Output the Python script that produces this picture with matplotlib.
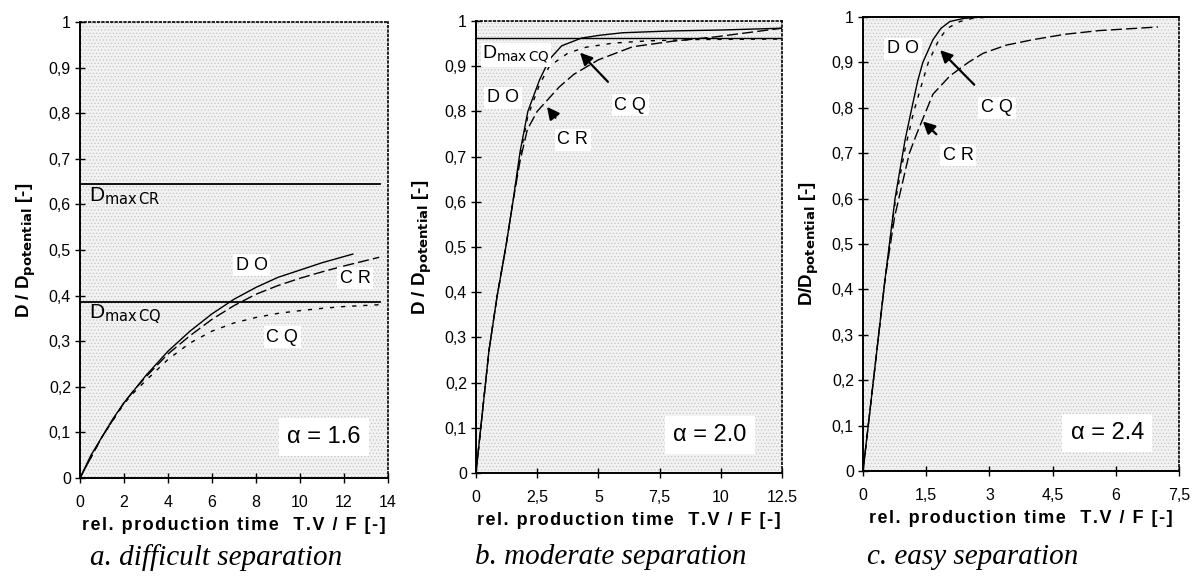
import numpy as np
import matplotlib.pyplot as plt

plt.rcParams['font.family'] = ['Liberation Sans', 'DejaVu Sans']
plt.rcParams['hatch.color'] = '#c4c4c4'
plt.rcParams['hatch.linewidth'] = 0.5

# ---- panel a: difficult separation, alpha = 1.6 ----
a_do_x = [0, 0.5, 1, 1.5, 2, 2.5, 3, 4, 5, 6, 7, 8, 9, 10, 11, 12.4]
a_do_y = [0, 0.05, 0.09, 0.13, 0.165, 0.195, 0.225, 0.278, 0.322, 0.36, 0.392, 0.418, 0.44, 0.456, 0.472, 0.491]
a_cr_x = [0, 1, 2, 2.5, 3, 4, 5, 6, 7, 8, 9, 10, 11, 12, 13.6]
a_cr_y = [0, 0.09, 0.165, 0.195, 0.222, 0.272, 0.312, 0.348, 0.378, 0.403, 0.422, 0.438, 0.452, 0.465, 0.484]
a_cq_x = [0, 1, 2, 2.5, 3, 4, 5, 6, 7, 8, 9, 10, 11, 12, 13.6]
a_cq_y = [0, 0.09, 0.163, 0.19, 0.214, 0.26, 0.296, 0.322, 0.34, 0.352, 0.361, 0.367, 0.372, 0.376, 0.38]
a_dmax_cr = 0.645
a_dmax_cq = 0.385

# ---- panel b: moderate separation, alpha = 2.0 ----
b_do_x = [0, 0.53, 0.86, 1.22, 1.51, 1.8, 2.12, 2.6, 3.0, 3.5, 4.3, 5, 6, 8, 10, 12.5]
b_do_y = [0, 0.27, 0.39, 0.5, 0.6, 0.71, 0.8, 0.87, 0.915, 0.945, 0.962, 0.968, 0.974, 0.978, 0.98, 0.984]
b_cr_x = [0, 0.53, 0.86, 1.22, 1.51, 1.8, 2.1, 2.5, 3.0, 3.4, 4.0, 5.0, 6.4, 8, 9.8, 12.5]
b_cr_y = [0, 0.27, 0.39, 0.5, 0.6, 0.69, 0.76, 0.8, 0.83, 0.854, 0.882, 0.914, 0.943, 0.955, 0.965, 0.984]
b_cq_x = [0, 0.53, 0.86, 1.22, 1.51, 1.8, 2.12, 2.6, 3.0, 3.76, 4.5, 5.6, 7, 9, 12.5]
b_cq_y = [0, 0.27, 0.39, 0.5, 0.6, 0.7, 0.79, 0.86, 0.9, 0.929, 0.942, 0.951, 0.956, 0.959, 0.96]
b_dmax_cq = 0.962

# ---- panel c: easy separation, alpha = 2.4 ----
c_do_x = [0, 0.52, 0.76, 1.0, 1.16, 1.3, 1.42, 1.66, 1.85, 2.06, 2.4, 2.85, 4, 7.5]
c_do_y = [0, 0.42, 0.6, 0.73, 0.8, 0.86, 0.9, 0.95, 0.975, 0.99, 0.997, 1.0, 1.0, 1.0]
c_cr_x = [0, 0.52, 0.75, 0.95, 1.1, 1.28, 1.66, 2.06, 2.5, 2.85, 3.4, 4.03, 4.8, 5.6, 7.0]
c_cr_y = [0, 0.42, 0.56, 0.64, 0.7, 0.744, 0.83, 0.87, 0.9, 0.92, 0.938, 0.95, 0.962, 0.97, 0.978]
c_cq_x = [0, 0.52, 0.76, 1.0, 1.2, 1.42, 1.55, 1.8, 2.0, 2.3, 2.6, 3.0, 7.5]
c_cq_y = [0, 0.42, 0.59, 0.71, 0.79, 0.86, 0.9, 0.95, 0.975, 0.99, 0.997, 1.0, 1.0]

y_ticks = np.arange(0, 1.01, 0.1)
y_labels = ['0'] + ['0,%d' % i for i in range(1, 10)] + ['1']
a_xticks = [0, 2, 4, 6, 8, 10, 12, 14]
a_xlabels = ['0', '2', '4', '6', '8', '10', '12', '14']
b_xticks = [0, 2.5, 5, 7.5, 10, 12.5]
b_xlabels = ['0', '2,5', '5', '7,5', '10', '12.5']
c_xticks = [0, 1.5, 3, 4.5, 6, 7.5]
c_xlabels = ['0', '1,5', '3', '4,5', '6', '7,5']

captions = ['a. difficult separation', 'b. moderate separation', 'c. easy separation']

DO_STYLE = dict(color='black', lw=1.0, ls='-')
CR_STYLE = dict(color='black', lw=1.0, ls=(0, (8, 3)))
CQ_STYLE = dict(color='black', lw=1.0, ls=(0, (3, 5)))
BOX = dict(facecolor='white', edgecolor='none', pad=2)
LAB = dict(fontsize=13, ha='center', va='center', bbox=BOX)
ALPHA_BOX = dict(facecolor='white', edgecolor='none', pad=6)
ARROW = dict(arrowstyle='-|>', color='black', lw=1.6, shrinkB=0, mutation_scale=18)


def spaced(s):
    # wide letter spacing like the original axis titles
    return '\u200a'.join(s)


XLABEL = spaced('rel. production time  T.V / F [-]')

fig = plt.figure(figsize=(11.92, 5.78), dpi=100)


def setup_axes(rect, xmax, xticks, xlabels, ylabel, top_dotted=True):
    ax = fig.add_axes(rect)
    ax.set_facecolor('white')
    ax.add_patch(plt.Rectangle((0, 0), 1, 1, transform=ax.transAxes,
                               facecolor='#f2f2f2', hatch='.....', edgecolor='#c4c4c4',
                               lw=0, zorder=0))
    ax.set_xlim(0, xmax)
    ax.set_ylim(0, 1)
    ax.set_yticks(y_ticks)
    ax.set_yticklabels(y_labels)
    ax.set_xticks(xticks)
    ax.set_xticklabels(xlabels)
    ax.tick_params(direction='inout', length=7, width=1, labelsize=11.5, pad=3)
    ax.tick_params(axis='x', pad=9)
    ax.spines['left'].set_linewidth(1.4)
    ax.spines['bottom'].set_linewidth(1.4)
    ax.spines['right'].set_linestyle(':')
    ax.spines['right'].set_linewidth(1.2)
    if top_dotted:
        ax.spines['top'].set_linestyle(':')
        ax.spines['top'].set_linewidth(1.2)
    else:
        ax.spines['top'].set_linewidth(1.4)
    ax.set_xlabel(XLABEL, fontsize=13, fontweight='bold', labelpad=5)
    ax.set_ylabel(ylabel, fontsize=13.5, fontweight='bold', labelpad=8)
    return ax


# panel a
ax = setup_axes([0.0671, 0.173, 0.2584, 0.789], 14, a_xticks, a_xlabels,
                r'D / D$_{\mathbf{potential}}$ [-]')
ax.axhline(a_dmax_cr, color='black', lw=1.3, xmin=0, xmax=0.975)
ax.axhline(a_dmax_cq, color='black', lw=1.3, xmin=0, xmax=0.975)
ax.plot(a_do_x, a_do_y, **DO_STYLE)
ax.plot(a_cr_x, a_cr_y, **CR_STYLE)
ax.plot(a_cq_x, a_cq_y, **CQ_STYLE)
ax.text(0.4, 0.618, r'D$_{\mathrm{max\,CR}}$', fontsize=15, va='center')
ax.text(0.4, 0.36, r'D$_{\mathrm{max\,CQ}}$', fontsize=15, va='center')
ax.text(7.8, 0.467, 'D O', **LAB)
ax.text(12.5, 0.438, 'C R', **LAB)
ax.text(9.2, 0.309, 'C Q', **LAB)
ax.text(11.1, 0.09, '\u03b1 = 1.6', fontsize=17, ha='center', va='center', bbox=ALPHA_BOX)

# panel b
ax = setup_axes([0.3993, 0.1817, 0.2567, 0.782], 12.5, b_xticks, b_xlabels,
                r'D / D$_{\mathbf{potential}}$ [-]')
ax.axhline(b_dmax_cq, color='black', lw=1.0)
ax.plot(b_do_x, b_do_y, **DO_STYLE)
ax.plot(b_cr_x, b_cr_y, **CR_STYLE)
ax.plot(b_cq_x, b_cq_y, **CQ_STYLE)
ax.text(0.25, 0.925, r'D$_{\mathrm{max\,CQ}}$', fontsize=14, va='center',
        bbox=dict(facecolor='white', edgecolor='none', pad=1))
ax.text(1.1, 0.83, 'D O', **LAB)
ax.annotate('C Q', xy=(4.25, 0.93), xytext=(6.3, 0.814), **LAB,
            arrowprops=dict(ARROW, shrinkA=12))
ax.annotate('C R', xy=(2.9, 0.81), xytext=(3.96, 0.737), **LAB,
            arrowprops=dict(ARROW, shrinkA=10))
ax.text(9.55, 0.084, '\u03b1 = 2.0', fontsize=17, ha='center', va='center', bbox=ALPHA_BOX)

# panel c
ax = setup_axes([0.724, 0.1851, 0.2651, 0.7855], 7.5, c_xticks, c_xlabels,
                r'D/D$_{\mathbf{potential}}$ [-]', top_dotted=False)
ax.plot(c_do_x, c_do_y, **DO_STYLE)
ax.plot(c_cr_x, c_cr_y, **CR_STYLE)
ax.plot(c_cq_x, c_cq_y, **CQ_STYLE)
ax.text(0.95, 0.93, 'D O', **LAB)
ax.annotate('C Q', xy=(1.83, 0.927), xytext=(3.18, 0.80), **LAB,
            arrowprops=dict(ARROW, shrinkA=12))
ax.annotate('C R', xy=(1.42, 0.77), xytext=(2.26, 0.696), **LAB,
            arrowprops=dict(ARROW, shrinkA=10))
ax.text(5.8, 0.084, '\u03b1 = 2.4', fontsize=17, ha='center', va='center', bbox=ALPHA_BOX)

# captions
for xc, cap in zip([0.181, 0.512, 0.816], captions):
    fig.text(xc, 0.036, cap, fontsize=21, style='italic', family='Liberation Serif',
             ha='center', va='center')

fig.savefig('out.png', dpi=100)
